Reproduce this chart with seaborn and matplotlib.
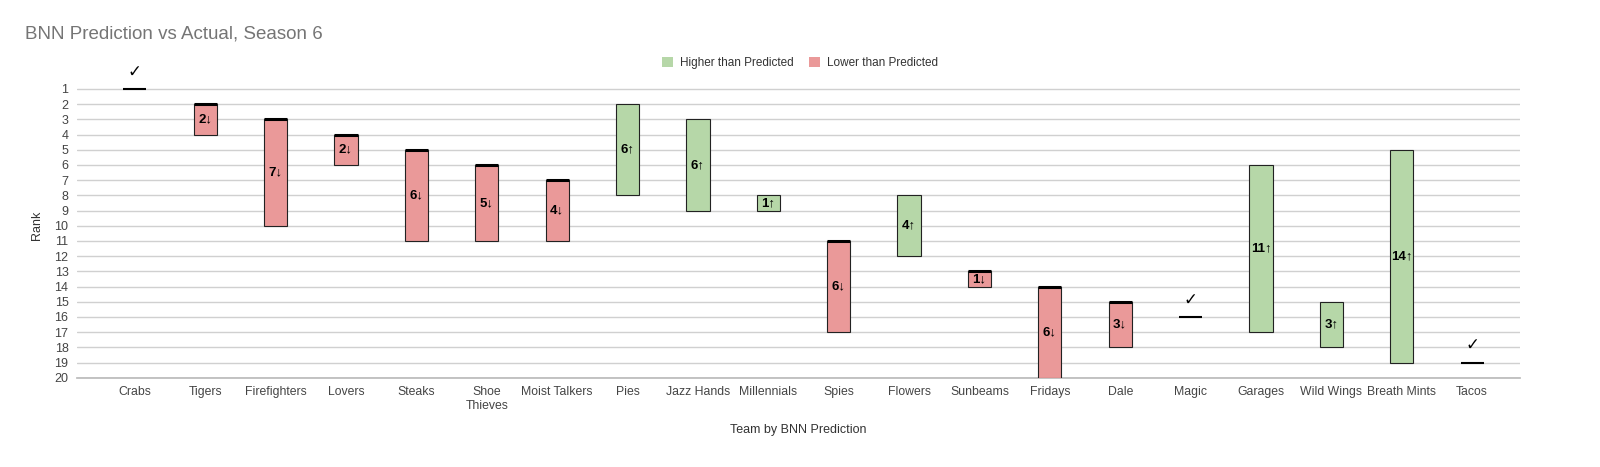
import matplotlib
matplotlib.use("Agg")
import matplotlib.pyplot as plt
import seaborn as sns
import pandas as pd
import numpy as np
from matplotlib.patches import Patch

teams = ["Crabs", "Tigers", "Firefighters", "Lovers", "Steaks", "Shoe\nThieves",
         "Moist Talkers", "Pies", "Jazz Hands", "Millennials", "Spies", "Flowers",
         "Sunbeams", "Fridays", "Dale", "Magic", "Garages", "Wild Wings",
         "Breath Mints", "Tacos"]
predicted = [1, 2, 3, 4, 5, 6, 7, 8, 9, 9, 11, 12, 13, 14, 15, 16, 17, 18, 19, 19]
actual = [1, 4, 10, 6, 11, 11, 11, 2, 3, 8, 17, 8, 14, 20, 18, 16, 6, 15, 5, 19]

GREEN = "#b6d7a8"
RED = "#ea9999"

df = pd.DataFrame({"team": teams, "pred": predicted, "act": actual})
df["diff"] = df["act"] - df["pred"]

sns.set_theme(style="white")
plt.rcParams["font.family"] = ["Liberation Sans", "DejaVu Sans"]

fig = plt.figure(figsize=(16, 4.67), dpi=100)
ax = fig.add_axes([0.048, 0.191, 0.902, 0.651])

W = 0.33
sns.barplot(data=df, x="team", y="diff", order=teams, color=GREEN, width=W,
            bottom=df["pred"].values, edgecolor="#222222", linewidth=0.8,
            errorbar=None, ax=ax, zorder=3)

for i, p in enumerate(ax.patches):
    d = df["diff"].iloc[i]
    if d > 0:
        p.set_facecolor(RED)
    elif d < 0:
        p.set_facecolor(GREEN)
    else:
        p.set_visible(False)

for i, row in df.iterrows():
    d = row["diff"]
    if d == 0:
        ax.hlines(row["pred"], i - W / 2, i + W / 2, color="black", lw=1.5, zorder=4)
        ax.text(i, row["pred"] - 1.15, "✓", ha="center", va="center", fontsize=12,
                color="black", family=["DejaVu Sans"], zorder=5)
    else:
        if d > 0:
            ax.hlines(row["pred"], i - W / 2, i + W / 2, color="black", lw=2.2, zorder=4)
            lab = f"{abs(d)}↓"
        else:
            lab = f"{abs(d)}↑"
        ax.text(i, (row["pred"] + row["act"]) / 2, lab, ha="center", va="center",
                fontsize=9.5, fontweight="bold", color="black",
                family=["Liberation Sans", "DejaVu Sans"], zorder=5)

ax.set_ylim(20, 0)
ax.set_xlim(-0.824, 19.68)
ax.set_yticks(range(1, 21))
ax.set_yticklabels([str(v) for v in range(1, 21)], color="#444444", fontsize=9)
ax.tick_params(axis="x", labelsize=8.8, labelcolor="#444444", length=0, pad=6)
ax.tick_params(axis="y", length=0, pad=6)
ax.grid(axis="y", color="#d0d0d0", lw=1, zorder=0)
for s in ["top", "right", "left"]:
    ax.spines[s].set_visible(False)
ax.spines["bottom"].set_color("#bbbbbb")
ax.spines["bottom"].set_zorder(2)
ax.set_axisbelow(True)

ax.set_xlabel("Team by BNN Prediction", fontsize=9, color="#333333", labelpad=9)
ax.set_ylabel("Rank", fontsize=9, color="#333333", labelpad=8)

fig.text(0.0155, 0.928, "BNN Prediction vs Actual, Season 6", fontsize=13.5,
         color="#757575", ha="left", va="center")

handles = [Patch(facecolor=GREEN, edgecolor="none", label="Higher than Predicted"),
           Patch(facecolor=RED, edgecolor="none", label="Lower than Predicted")]
fig.legend(handles=handles, loc="center", bbox_to_anchor=(0.5, 0.866), ncol=2,
           frameon=False, fontsize=8.5, handlelength=0.95, handleheight=0.95,
           handletextpad=0.6, columnspacing=1.3, labelcolor="#333333")

fig.savefig("out.png", dpi=100)
